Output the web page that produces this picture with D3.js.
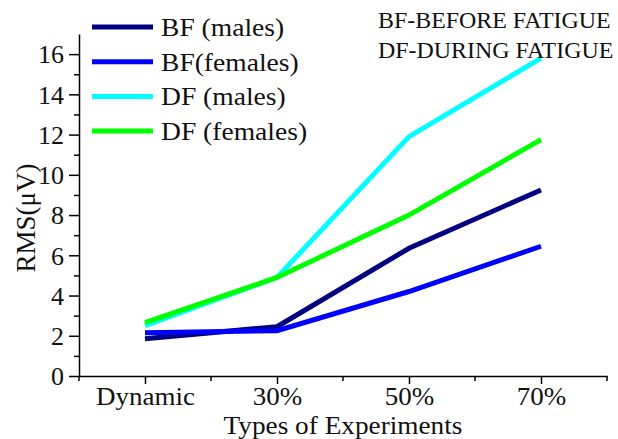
<!DOCTYPE html>
<html>
<head>
<meta charset="utf-8">
<script src="https://cdn.jsdelivr.net/npm/d3@7"></script>
<style>
  body { margin: 0; background: #fff; }
  svg { display: block; font-family: "Liberation Serif", "Times New Roman", serif; }
  svg text { font-family: "Liberation Serif", "Times New Roman", serif; }
</style>
</head>
<body>
<svg></svg>
<script>
let categories = ['Dynamic', '30%', '50%', '70%']
let seriesNames = ['BF (males)', 'BF(females)', 'DF (males)', 'DF (females)']
let bfMales = [1.85, 2.45, 6.35, 9.25]
let bfFemales = [2.15, 2.25, 4.2, 6.45]
let dfMales = [2.5, 4.9, 11.9, 15.8]
let dfFemales = [2.65, 4.9, 8.0, 11.75]
let yTicks = [0, 2, 4, 6, 8, 10, 12, 14, 16]
let yMinorTicks = [1, 3, 5, 7, 9, 11, 13, 15]
let notes = ['BF-BEFORE FATIGUE', 'DF-DURING FATIGUE']
let colors = ['#000080', '#0000ff', '#00ffff', '#00ff00']

let width = 618
let height = 439
let plotLeft = 79
let plotRight = 607
let plotTop = 34
let plotBottom = 376

let svg = d3.select('svg').attr('width', width).attr('height', height)

let series = [bfMales, bfFemales, dfMales, dfFemales]

let xScale = d3.scalePoint()
    .domain(categories)
    .range([plotLeft, plotRight])
    .padding(0.5)

let xBand = d3.scaleBand()
    .domain(categories)
    .range([plotLeft, plotRight])

let yScale = d3.scaleLinear()
    .domain([0, 17])
    .range([plotBottom, plotTop])

// minor ticks first so the axes sit on top
let yMinor = d3.axisLeft(yScale).tickValues(yMinorTicks).tickSize(5).tickFormat('')
svg.append('g')
    .attr('transform', 'translate(' + plotLeft + ',0)')
    .call(yMinor)
    .call(g => g.select('.domain').remove())

let edges = categories.map(c => xBand(c)).concat([plotRight])
svg.append('g')
    .selectAll('line')
    .data(edges)
    .enter()
    .append('line')
    .attr('x1', d => d).attr('x2', d => d)
    .attr('y1', plotBottom).attr('y2', plotBottom + 5)
    .attr('stroke', '#000').attr('stroke-width', 1.5)

let yAxis = d3.axisLeft(yScale).tickValues(yTicks).tickSize(10).tickSizeOuter(0).tickPadding(5)
let yg = svg.append('g')
    .attr('transform', 'translate(' + plotLeft + ',0)')
    .call(yAxis)

let xAxis = d3.axisBottom(xScale).tickSize(8).tickSizeOuter(0).tickPadding(3)
let xg = svg.append('g')
    .attr('transform', 'translate(0,' + plotBottom + ')')
    .call(xAxis)

svg.selectAll('.tick line').attr('stroke-width', 1.5)
svg.selectAll('.domain').attr('stroke-width', 1.5)
yg.attr('font-family', null).attr('font-size', 26)
xg.attr('font-family', null).attr('font-size', 25)
yg.selectAll('text').attr('fill', '#111').attr('dy', '0.34em')
xg.selectAll('text').attr('fill', '#111').attr('dy', '0.72em').attr('transform', 'scale(1.08,1)')

// axis titles
svg.append('text')
    .attr('transform', 'translate(' + (plotLeft + plotRight) / 2 + ',433.5) scale(1.07,1)')
    .attr('text-anchor', 'middle')
    .attr('font-size', 25.5)
    .attr('fill', '#111')
    .text('Types of Experiments')

svg.append('text')
    .attr('transform', 'translate(35,218) rotate(-90)')
    .attr('text-anchor', 'middle')
    .attr('font-size', 27)
    .attr('fill', '#111')
    .text('RMS(\u03bcV)')

// lines
let valueline = d3.line()
    .x((d, i) => xScale(categories[i]))
    .y(d => yScale(d))

svg.selectAll('.series')
    .data(series)
    .enter()
    .append('path')
    .attr('class', 'series')
    .attr('d', d => valueline(d))
    .attr('fill', 'none')
    .attr('stroke', (d, i) => colors[i])
    .attr('stroke-width', 5)

// legend
let legend = svg.append('g')
seriesNames.forEach((name, i) => {
    let y = 27 + i * 34.7
    legend.append('line')
        .attr('x1', 92).attr('x2', 153)
        .attr('y1', y).attr('y2', y)
        .attr('stroke', colors[i])
        .attr('stroke-width', 5)
    legend.append('text')
        .attr('transform', 'translate(161,' + (y + 9) + ') scale(1.06,1)')
        .attr('font-size', 26)
        .attr('fill', '#111')
        .text(name)
})

notes.forEach((t, i) => {
    svg.append('text')
        .attr('transform', 'translate(378,' + (28 + i * 30) + ') scale(1.04,1)')
        .attr('font-size', 23)
        .attr('fill', '#111')
        .text(t)
})
</script>
</body>
</html>
